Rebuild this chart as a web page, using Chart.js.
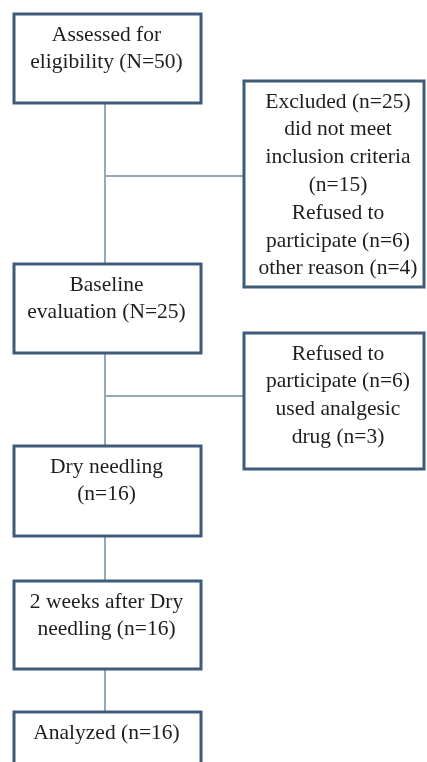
<!DOCTYPE html>
<html>
<head>
<meta charset="utf-8">
<script src="https://cdn.jsdelivr.net/npm/chart.js@4"></script>
<style>
  html, body { margin: 0; padding: 0; background: #fff; }
  canvas { display: block; }
</style>
</head>
<body>
<canvas id="flow" width="427" height="762"></canvas>
<script>
// main flow stages (label text, "\n" marks where the original wraps)
const stageLabels = ["Assessed for\neligibility", "Baseline\nevaluation", "Dry needling", "2 weeks after Dry\nneedling", "Analyzed"];
const stageSeparators = [" ", " ", "\n", " ", " "];
const stageSymbols = ["N", "N", "n", "n", "n"];
const stageCounts = [50, 25, 16, 16, 16];

// first exclusion box
const exclusionTitle = "Excluded";
const exclusionTotal = 25;
const exclusionReasons = ["did not meet\ninclusion criteria", "Refused to\nparticipate", "other reason"];
const exclusionSeparators = ["\n", " ", " "];
const exclusionCounts = [15, 6, 4];

// second exclusion box
const dropoutReasons = ["Refused to\nparticipate", "used analgesic\ndrug"];
const dropoutCounts = [6, 3];

// layout in page units [left, top, right, bottom]
const stageBoxes = [
  [14, 14, 201, 103],
  [14, 264, 201, 353],
  [14, 446, 201, 536],
  [14, 581, 201, 669],
  [14, 712, 201, 790]
];
const sideBoxes = [
  [244, 81, 424, 287],
  [244, 333, 424, 469]
];
const spineX = 105;
const branchY = [176, 396];

function stageText(i) {
  return stageLabels[i] + stageSeparators[i] + "(" + stageSymbols[i] + "=" + stageCounts[i] + ")";
}
function exclusionText() {
  let lines = [exclusionTitle + " (n=" + exclusionTotal + ")"];
  exclusionReasons.forEach((r, i) => {
    lines.push(r + exclusionSeparators[i] + "(n=" + exclusionCounts[i] + ")");
  });
  return lines.join("\n");
}
function dropoutText() {
  return dropoutReasons.map((r, i) => r + " (n=" + dropoutCounts[i] + ")").join("\n");
}

const flowPlugin = {
  id: "flow",
  afterDraw(chart) {
    const c = chart.ctx;
    const xs = chart.scales.x, ys = chart.scales.y;
    const px = v => xs.getPixelForValue(v);
    const py = v => ys.getPixelForValue(v);

    c.save();
    // connectors
    c.strokeStyle = "#93a8b8";
    c.lineWidth = 2;
    c.beginPath();
    for (let i = 0; i < stageBoxes.length - 1; i++) {
      c.moveTo(px(spineX), py(stageBoxes[i][3]));
      c.lineTo(px(spineX), py(stageBoxes[i + 1][1]));
    }
    branchY.forEach((y, i) => {
      c.moveTo(px(spineX), py(y));
      c.lineTo(px(sideBoxes[i][0]), py(y));
    });
    c.stroke();

    // boxes and text
    const drawBox = (b, text, shift) => {
      const l = px(b[0]), t = py(b[1]), r = px(b[2]), bt = py(b[3]);
      c.fillStyle = "#ffffff";
      c.fillRect(l, t, r - l, bt - t);
      c.strokeStyle = "#3f5b7a";
      c.lineWidth = 3;
      c.strokeRect(l, t, r - l, bt - t);
      c.fillStyle = "#1e1e1e";
      c.font = "21.5px 'Liberation Serif', 'Times New Roman', serif";
      c.textAlign = "center";
      c.textBaseline = "middle";
      text.split("\n").forEach((line, k) => {
        c.fillText(line, (l + r) / 2 + shift, t + 21 + k * 27.8);
      });
    };
    stageBoxes.forEach((b, i) => drawBox(b, stageText(i), -1));
    drawBox(sideBoxes[0], exclusionText(), 4);
    drawBox(sideBoxes[1], dropoutText(), 4);
    c.restore();
  }
};

new Chart(document.getElementById("flow").getContext("2d"), {
  type: "scatter",
  data: { datasets: [{ data: [] }] },
  options: {
    responsive: false,
    animation: false,
    layout: { padding: 0 },
    plugins: { legend: { display: false }, tooltip: { enabled: false } },
    scales: {
      x: { type: "linear", min: 0, max: 427, display: false },
      y: { type: "linear", min: 0, max: 762, reverse: true, display: false }
    }
  },
  plugins: [flowPlugin]
});
</script>
</body>
</html>
